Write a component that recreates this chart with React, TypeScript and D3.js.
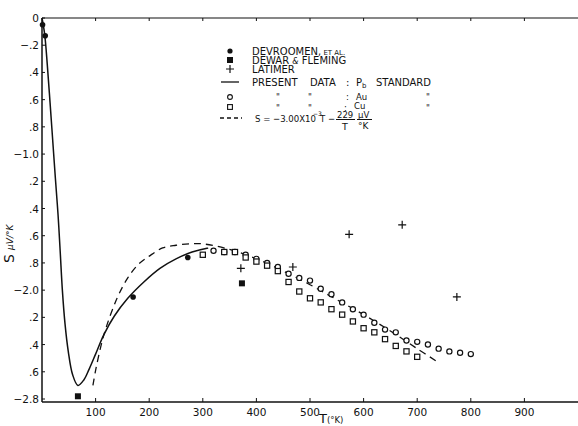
import React from "react";
import * as d3 from "d3";

const W = 578;
const H = 426;
const font = "'DejaVu Sans', 'Liberation Sans', sans-serif";
const narrow = "'DejaVu Sans Condensed', 'Liberation Sans Narrow', sans-serif";
const ink = "#111";

// axis ticks
const xTicks = [100, 200, 300, 400, 500, 600, 700, 800, 900];
const yTicks = [0, -0.2, -0.4, -0.6, -0.8, -1.0, -1.2, -1.4, -1.6, -1.8, -2.0, -2.2, -2.4, -2.6, -2.8];
const yTickLabels = ["0", "−.2", ".4", ".6", ".8", "−1.0", ".2", ".4", ".6", ".8", "−2.0", ".2", ".4", ".6", "−2.8"];

// present data, Pb standard (solid curve)
const pbT = [0, 5, 10, 15, 20, 25, 30, 34, 38, 43, 49, 57, 67, 78, 88, 100, 115, 135, 160, 190, 220, 250, 280, 310];
const pbS = [0, -0.12, -0.35, -0.62, -0.9, -1.18, -1.45, -1.72, -2.0, -2.25, -2.45, -2.62, -2.7, -2.66, -2.58, -2.47, -2.33, -2.19, -2.06, -1.94, -1.84, -1.77, -1.72, -1.69];

// S = -3.00e-3 T - 229/T (dashed curve)
const fitT = [95, 100, 110, 120, 140, 160, 180, 200, 225, 250, 275, 300, 350, 400, 450, 500, 550, 600, 650, 700, 735];
const fitS = [-2.7, -2.59, -2.41, -2.27, -2.06, -1.91, -1.81, -1.75, -1.69, -1.67, -1.66, -1.66, -1.7, -1.77, -1.86, -1.96, -2.07, -2.18, -2.3, -2.43, -2.52];

// present data, Au standard (open circles)
const auT = [320, 340, 360, 380, 400, 420, 440, 460, 480, 500, 520, 540, 560, 580, 600, 620, 640, 660, 680, 700, 720, 740, 760, 780, 800];
const auS = [-1.71, -1.72, -1.72, -1.74, -1.77, -1.8, -1.83, -1.88, -1.91, -1.93, -1.99, -2.03, -2.09, -2.14, -2.18, -2.24, -2.29, -2.31, -2.37, -2.38, -2.4, -2.43, -2.45, -2.46, -2.47];

// present data, Cu standard (open squares)
const cuT = [300, 340, 360, 380, 400, 420, 440, 460, 480, 500, 520, 540, 560, 580, 600, 620, 640, 660, 680, 700];
const cuS = [-1.74, -1.72, -1.72, -1.76, -1.79, -1.82, -1.86, -1.94, -2.01, -2.06, -2.09, -2.14, -2.18, -2.23, -2.28, -2.31, -2.36, -2.41, -2.45, -2.49];

// DeVroomen et al. (filled circles)
const devT = [1, 6, 170, 272];
const devS = [-0.05, -0.13, -2.05, -1.76];

// Dewar & Fleming (filled squares)
const dewT = [67, 373];
const dewS = [-2.78, -1.95];

// Latimer (crosses)
const latT = [371, 468, 573, 672, 774];
const latS = [-1.84, -1.83, -1.59, -1.52, -2.05];

const x = d3.scaleLinear().domain([0, 1000]).range([42, 578]);
const y = d3.scaleLinear().domain([0, -2.8]).range([18, 399]);

const pts = (ts: number[], ss: number[]) => ts.map((t, i) => [x(t), y(ss[i])] as [number, number]);

const App = () => {
  const line = d3.line().curve(d3.curveCatmullRom.alpha(0.5));
  const pbPath = line(pts(pbT, pbS)) || "";
  const fitPath = line(pts(fitT, fitS)) || "";
  const x0 = x(0);
  const yBase = y(-2.8) + 3;
  const lx = 230; // legend marker column
  const tx = 252; // legend text column

  return (
    <svg width={W} height={H} style={{ position: "absolute", left: 0, top: 0, background: "#fff" }} fontFamily={font}>
      {/* frame: top line, left axis, bottom axis */}
      <line x1={x0} y1={y(0)} x2={W} y2={y(0)} stroke={ink} strokeWidth={1.2} />
      <line x1={x0} y1={y(0)} x2={x0} y2={yBase} stroke={ink} strokeWidth={1.5} />
      <line x1={x0} y1={yBase} x2={W} y2={yBase} stroke={ink} strokeWidth={1.5} />

      {xTicks.map((t) => (
        <g key={"xt" + t}>
          <line x1={x(t)} x2={x(t)} y1={yBase} y2={yBase - 4} stroke={ink} strokeWidth={1} />
          <line x1={x(t)} x2={x(t)} y1={y(0)} y2={y(0) + 3} stroke={ink} strokeWidth={1} />
          <text x={x(t)} y={yBase + 14} textAnchor="middle" fontSize={10.5} fill={ink}>{t}</text>
        </g>
      ))}
      {yTicks.map((v, i) => (
        <g key={"yt" + i}>
          <line x1={x0} x2={x0 + 3} y1={y(v)} y2={y(v)} stroke={ink} strokeWidth={1} />
          <text x={x0 - 3} y={y(v) + 4} textAnchor="end" fontSize={10.5} fill={ink}>{yTickLabels[i]}</text>
        </g>
      ))}

      {/* axis titles */}
      <g transform="translate(14,263) rotate(-90)">
        <text x={0} y={0} fontSize={14} fill={ink}>S</text>
        <text x={13} y={-1} fontSize={9} fontStyle="italic" fill={ink}>μV/°K</text>
      </g>
      <text x={319} y={423} fontSize={13} fill={ink}>T<tspan fontSize={8.5}>(°K)</tspan></text>

      {/* curves */}
      <path d={fitPath} fill="none" stroke={ink} strokeWidth={1.3} strokeDasharray="7,5" />
      <path d={pbPath} fill="none" stroke={ink} strokeWidth={1.5} />

      {/* present data markers */}
      {auT.map((t, i) => (
        <circle key={"au" + i} cx={x(t)} cy={y(auS[i])} r={2.6} fill="#fff" stroke={ink} strokeWidth={1.2} />
      ))}
      {cuT.map((t, i) => (
        <rect key={"cu" + i} x={x(t) - 2.6} y={y(cuS[i]) - 2.6} width={5.2} height={5.2} fill="#fff" stroke={ink} strokeWidth={1.2} />
      ))}
      {devT.map((t, i) => (
        <circle key={"dv" + i} cx={x(t)} cy={y(devS[i])} r={2.8} fill={ink} />
      ))}
      {dewT.map((t, i) => (
        <rect key={"dw" + i} x={x(t) - 3} y={y(dewS[i]) - 3} width={6} height={6} fill={ink} />
      ))}
      {latT.map((t, i) => (
        <path key={"lt" + i} d={`M${x(t) - 4},${y(latS[i])}h8M${x(t)},${y(latS[i]) - 4}v8`} stroke={ink} strokeWidth={1.2} />
      ))}

      {/* legend */}
      <g fill={ink} fontSize={10}>
        <circle cx={lx} cy={51} r={2.6} />
        <text x={tx} y={55}>DEVROOMEN,<tspan fontSize={7}> ET AL.</tspan></text>
        <rect x={lx - 3} y={57} width={6} height={6} />
        <text x={tx} y={64}>DEWAR <tspan fontSize={8} fontStyle="italic">&amp;</tspan> FLEMING</text>
        <path d={`M${lx - 4},69h8M${lx},65v8`} stroke={ink} strokeWidth={1.2} />
        <text x={tx} y={73}>LATIMER</text>
        <line x1={lx - 9} x2={lx + 9} y1={82} y2={82} stroke={ink} strokeWidth={1.3} />
        <text x={tx} y={86}>PRESENT</text>
        <text x={tx + 58} y={86}>DATA</text>
        <text x={tx + 94} y={86}>:</text>
        <text x={tx + 104} y={86}>P<tspan fontSize={7} dy={2}>b</tspan></text>
        <text x={tx + 124} y={86}>STANDARD</text>
        <circle cx={lx} cy={97} r={2.4} fill="#fff" stroke={ink} strokeWidth={1.1} />
        <g fontSize={8.5}>
          <text x={tx + 24} y={100}>"</text>
          <text x={tx + 56} y={100}>"</text>
          <text x={tx + 94} y={100}>:</text>
          <text x={tx + 104} y={100}>Au</text>
          <text x={tx + 174} y={100}>"</text>
        </g>
        <rect x={lx - 2.4} y={104.6} width={4.8} height={4.8} fill="#fff" stroke={ink} strokeWidth={1.1} />
        <g fontSize={8.5}>
          <text x={tx + 24} y={110.5}>"</text>
          <text x={tx + 56} y={110.5}>"</text>
          <text x={tx + 92} y={110.5}>:</text>
          <text x={tx + 102} y={109}>Cu</text>
          <text x={tx + 174} y={110.5}>"</text>
        </g>
        <line x1={lx - 10} x2={lx + 12} y1={118} y2={118} stroke={ink} strokeWidth={1.3} strokeDasharray="4,3" />
        <text x={tx + 3} y={122} fontFamily={narrow} fontSize={9.5}>S = −3.00X10</text>
        <text x={tx + 61} y={116} fontSize={6}>−3</text>
        <text x={tx + 68} y={122} fontFamily={narrow} fontSize={9.5}>T −</text>
        <text x={tx + 85} y={118} fontSize={8.5}>229</text>
        <line x1={tx + 84} x2={tx + 103} y1={119.5} y2={119.5} stroke={ink} strokeWidth={1} />
        <text x={tx + 90} y={130} fontSize={9.5}>T</text>
        <text x={tx + 106} y={118} fontSize={8.5}>μV</text>
        <line x1={tx + 105} x2={tx + 120} y1={119.5} y2={119.5} stroke={ink} strokeWidth={1} />
        <text x={tx + 106} y={129} fontSize={9}>°K</text>
      </g>
    </svg>
  );
};

export default App;
